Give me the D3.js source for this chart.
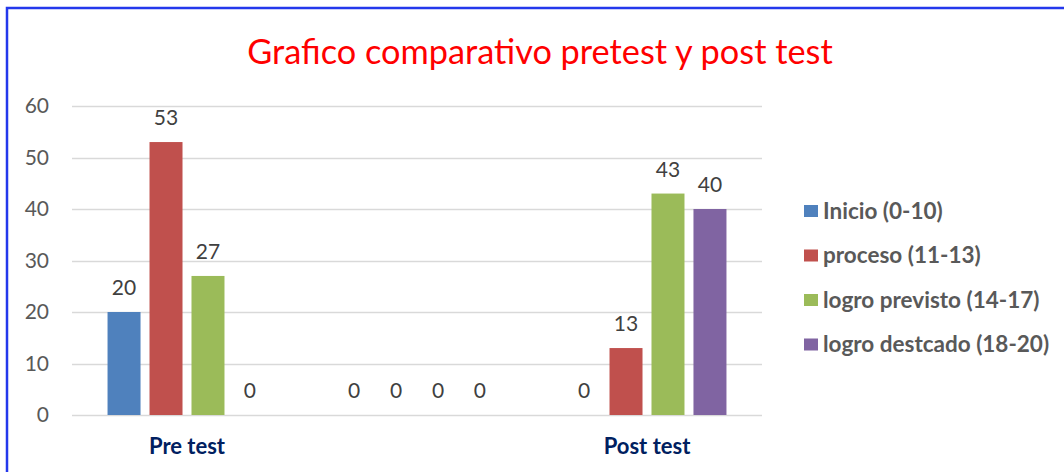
<!DOCTYPE html>
<html>
<head>
<meta charset="utf-8">
<script src="https://cdn.jsdelivr.net/npm/d3@7"></script>
<style>
  html, body { margin: 0; padding: 0; background: #fff; }
  svg { display: block; }
</style>
</head>
<body>
<svg id="chart" width="1064" height="472"></svg>
<script>
const title = "Grafico comparativo pretest y post test";
const categories = ["Pre test", "", "Post test"];
const seriesNames = ["Inicio (0-10)", "proceso (11-13)", "logro previsto (14-17)", "logro destcado (18-20)"];
const seriesColors = ["#4F81BD", "#C0504D", "#9BBB59", "#8064A2"];
const inicio = [20, 0, 0];
const proceso = [53, 0, 13];
const logroPrevisto = [27, 0, 43];
const logroDestacado = [0, 0, 40];
const yTicks = [0, 10, 20, 30, 40, 50, 60];

const seriesValues = [inicio, proceso, logroPrevisto, logroDestacado];
const FONT = "Lato, 'Open Sans', sans-serif";

const svg = d3.select("#chart");

// outer blue frame
svg.append("path")
  .attr("d", "M7,480 L7,8 L1070,8")
  .attr("fill", "none")
  .attr("stroke", "#2438EC")
  .attr("stroke-width", 2.5);

// title
svg.append("text")
  .attr("x", 540).attr("y", 64)
  .attr("text-anchor", "middle")
  .attr("font-family", FONT)
  .attr("font-size", 34.3)
  .attr("fill", "#FF0000")
  .text(title);

const plot = { left: 72, right: 762, top: 106, bottom: 415 };

const x0 = d3.scaleBand()
  .domain(d3.range(categories.length))
  .range([plot.left, plot.right])
  .paddingInner(0.309)
  .paddingOuter(0.1545);

const x1 = d3.scaleBand()
  .domain(d3.range(seriesNames.length))
  .range([0, x0.bandwidth()])
  .paddingInner(0.214)
  .paddingOuter(0);

const y = d3.scaleLinear().domain([0, 60]).range([plot.bottom, plot.top]);

// gridlines
svg.append("g")
  .selectAll("line")
  .data(yTicks)
  .join("line")
  .attr("x1", plot.left).attr("x2", plot.right)
  .attr("y1", d => Math.round(y(d)) + 0.5).attr("y2", d => Math.round(y(d)) + 0.5)
  .attr("stroke", "#D9D9D9")
  .attr("stroke-width", 1.5);

// y axis labels
const yAxis = d3.axisLeft(y).tickValues(yTicks).tickSize(0).tickPadding(0);
const yg = svg.append("g").attr("transform", `translate(49,0)`).call(yAxis);
yg.select(".domain").remove();
yg.selectAll("text")
  .attr("font-family", FONT)
  .attr("font-size", 21)
  .attr("fill", "#595959");

// bars
const groups = svg.append("g")
  .selectAll("g")
  .data(categories.map((c, i) => i))
  .join("g")
  .attr("transform", i => `translate(${x0(i)},0)`);

groups.selectAll("rect")
  .data(i => seriesValues.map((vals, s) => ({ s, v: vals[i] })))
  .join("rect")
  .attr("x", d => x1(d.s))
  .attr("width", x1.bandwidth())
  .attr("y", d => y(d.v))
  .attr("height", d => y(0) - y(d.v))
  .attr("fill", d => seriesColors[d.s]);

groups.selectAll("text")
  .data(i => seriesValues.map((vals, s) => ({ s, v: vals[i] })))
  .join("text")
  .attr("x", d => x1(d.s) + x1.bandwidth() / 2)
  .attr("y", d => y(d.v) - 17)
  .attr("text-anchor", "middle")
  .attr("font-family", FONT)
  .attr("font-size", 21)
  .attr("fill", "#404040")
  .text(d => d.v);

// x axis labels
const xAxis = d3.axisBottom(x0).tickFormat(i => categories[i]).tickSize(0).tickPadding(0);
const xg = svg.append("g").attr("transform", `translate(0,438)`).call(xAxis);
xg.select(".domain").remove();
xg.selectAll("text")
  .attr("font-family", FONT)
  .attr("font-size", 22)
  .attr("font-weight", "bold")
  .attr("fill", "#002060");

// legend
const legend = svg.append("g")
  .selectAll("g")
  .data(seriesNames.map((n, i) => i))
  .join("g")
  .attr("transform", i => `translate(804,${211 + i * 44.5})`);

legend.append("rect")
  .attr("x", 0).attr("y", -6)
  .attr("width", 14).attr("height", 12)
  .attr("fill", i => seriesColors[i]);

legend.append("text")
  .attr("x", 19).attr("y", 0)
  .attr("dy", "0.35em")
  .attr("font-family", FONT)
  .attr("font-size", 22.5)
  .attr("font-weight", "bold")
  .attr("fill", "#595959")
  .text(i => seriesNames[i]);
</script>
</body>
</html>
